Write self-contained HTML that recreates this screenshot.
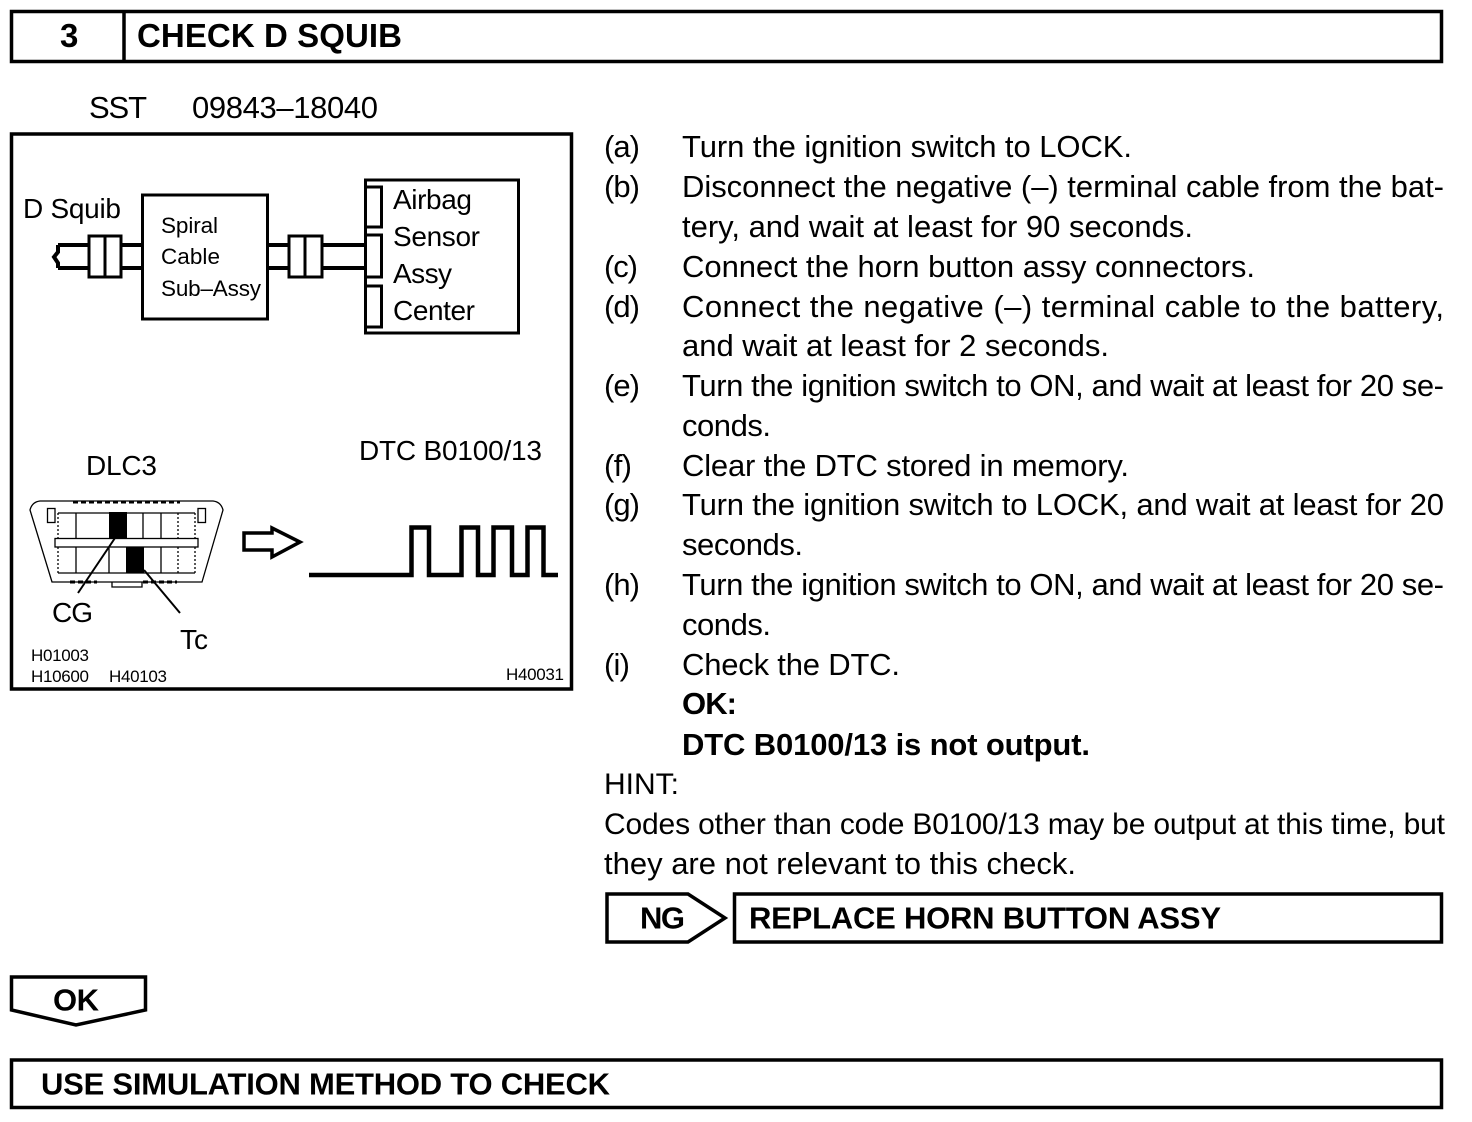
<!DOCTYPE html>
<html><head><meta charset="utf-8"><style>
html,body{margin:0;padding:0;background:#fff;width:1472px;height:1122px;overflow:hidden}
svg{display:block}
text{font-family:"Liberation Sans",sans-serif;fill:#000}
.b{font-size:31px}.h{font-weight:bold;font-size:31px}.d{font-size:28px}.s{font-size:22.5px}.t{font-size:17px}
.l{fill:none;stroke:#000}
</style></head><body>
<svg width="1472" height="1122" viewBox="0 0 1472 1122" xmlns="http://www.w3.org/2000/svg">
<g class="l" stroke-width="3.5">
<rect x="11.5" y="11.5" width="1430" height="50"/><path d="M124 11V62"/>
<rect x="11.5" y="134" width="560" height="555"/>
<rect x="734.5" y="894" width="707" height="48"/>
<rect x="11.5" y="1060" width="1430" height="47.5"/>
<path d="M607 894H688L725 918L688 942H607Z"/>
<path d="M11.5 977H145.5V1010L76 1025L11.5 1010Z"/>
<path d="M58 245V252L54 257L58 263V268M58 245H142M58 268H142M268 245H365M268 268H365" stroke-width="4"/>
<rect x="89" y="236" width="32" height="41" fill="#fff" stroke-width="3"/><path d="M105 236V277" stroke-width="3"/>
<rect x="289" y="236" width="33" height="41" fill="#fff" stroke-width="3"/><path d="M305 236V277" stroke-width="3"/>
<rect x="142.500" y="195" width="125" height="124" fill="#fff" stroke-width="3"/>
<rect x="365.500" y="180" width="153" height="153" fill="#fff" stroke-width="3"/>
<rect x="365.500" y="187" width="16" height="40" stroke-width="3"/>
<rect x="365.500" y="235" width="16" height="42" stroke-width="3"/>
<rect x="365.500" y="286" width="16" height="41" stroke-width="3"/>
<path d="M244 533H272V528L300 542L272 557V550H244Z" stroke-width="3.5"/>
<path d="M309 575H411.500V527.500H429V575H461.500V527.500H478V575H493.500V527.500H512V575H527.500V527.500H543.500V575H558" stroke-width="4.500"/>
</g>
<g class="l" stroke-width="1.300">
<path d="M62 501H213Q221 502 223 510L202 582H52L30 510Q32 502 40 501Z"/>
<path d="M73 502H180" stroke-width="3" stroke-dasharray="5 3"/>
<path d="M70 582H97M143 582H177" stroke-width="3" stroke-dasharray="5 3"/>
<path d="M58 513H195M58 573H195"/>
<path d="M58 513V538M195 513V538M58 547V573M195 547V573M178 513V538M178 547V573" stroke-dasharray="2 2"/>
<path d="M76 513V538M143 513V538M161 513V538M76 547V573M109 547V573M161 547V573"/>
<rect x="55" y="538.500" width="143" height="8.500"/>
<rect x="47.500" y="508.500" width="7.500" height="14"/>
<rect x="198" y="508.500" width="7.500" height="14"/>
<path d="M112 582V587H142V582"/>
</g>
<rect x="109" y="512" width="18" height="26"/>
<rect x="126" y="547" width="18" height="26"/>
<g class="l" stroke-width="2"><path d="M115 538L78 593M144 570L180 613"/></g>

<text class="h" style="font-size:33px" x="60" y="47" textLength="18">3</text>
<text class="h" style="font-size:33px" x="137" y="47" textLength="265">CHECK D SQUIB</text>
<text class="b" x="89" y="118" textLength="58">SST</text>
<text class="b" x="192" y="118" textLength="186">09843–18040</text>

<text class="d" x="23" y="218" textLength="98">D Squib</text>
<text class="s" x="161" y="233" textLength="57">Spiral</text>
<text class="s" x="161" y="264" textLength="59">Cable</text>
<text class="s" x="161" y="296" textLength="100">Sub–Assy</text>
<text class="d" x="393" y="209" textLength="79">Airbag</text>
<text class="d" x="393" y="246" textLength="87">Sensor</text>
<text class="d" x="393" y="283" textLength="59">Assy</text>
<text class="d" x="393" y="320" textLength="82">Center</text>
<text class="d" x="86" y="475" textLength="71">DLC3</text>
<text class="d" x="359" y="460" textLength="183">DTC B0100/13</text>
<text class="d" x="52" y="622" textLength="41">CG</text>
<text class="d" x="180" y="649" textLength="28">Tc</text>
<text class="t" x="31" y="661" textLength="58">H01003</text>
<text class="t" x="31" y="682" textLength="58">H10600</text>
<text class="t" x="109" y="682" textLength="58">H40103</text>
<text class="t" x="506" y="680" textLength="58">H40031</text>

<text class="b" x="604" y="157" textLength="36">(a)</text><text class="b" x="682" y="157" textLength="450">Turn the ignition switch to LOCK.</text>
<text class="b" x="604" y="197" textLength="36">(b)</text><text class="b" x="682" y="197" textLength="762">Disconnect the negative (–) terminal cable from the bat-</text>
<text class="b" x="682" y="237" textLength="511">tery, and wait at least for 90 seconds.</text>
<text class="b" x="604" y="277" textLength="34">(c)</text><text class="b" x="682" y="277" textLength="573">Connect the horn button assy connectors.</text>
<text class="b" x="604" y="317" textLength="36">(d)</text><text class="b" x="682" y="317" textLength="762">Connect the negative (–) terminal cable to the battery,</text>
<text class="b" x="682" y="356" textLength="427">and wait at least for 2 seconds.</text>
<text class="b" x="604" y="396" textLength="36">(e)</text><text class="b" x="682" y="396" textLength="762">Turn the ignition switch to ON, and wait at least for 20 se-</text>
<text class="b" x="682" y="436" textLength="89">conds.</text>
<text class="b" x="604" y="476" textLength="28">(f)</text><text class="b" x="682" y="476" textLength="447">Clear the DTC stored in memory.</text>
<text class="b" x="604" y="515" textLength="36">(g)</text><text class="b" x="682" y="515" textLength="762">Turn the ignition switch to LOCK, and wait at least for 20</text>
<text class="b" x="682" y="555" textLength="121">seconds.</text>
<text class="b" x="604" y="595" textLength="36">(h)</text><text class="b" x="682" y="595" textLength="762">Turn the ignition switch to ON, and wait at least for 20 se-</text>
<text class="b" x="682" y="635" textLength="89">conds.</text>
<text class="b" x="604" y="675" textLength="26">(i)</text><text class="b" x="682" y="675" textLength="218">Check the DTC.</text>
<text class="b" x="682" y="714" textLength="55" font-weight="bold">OK:</text>
<text class="b" x="682" y="755" textLength="408" font-weight="bold">DTC B0100/13 is not output.</text>
<text class="b" style="font-size:30px" x="604" y="794" textLength="75">HINT:</text>
<text class="b" style="font-size:30px" x="604" y="834" textLength="841">Codes other than code B0100/13 may be output at this time, but</text>
<text class="b" x="604" y="874" textLength="472">they are not relevant to this check.</text>

<text class="h" x="640" y="928.500" textLength="45">NG</text>
<text class="h" x="749" y="928.500" textLength="472">REPLACE HORN BUTTON ASSY</text>
<text class="h" x="53" y="1010.500" textLength="46">OK</text>
<text class="h" x="41" y="1094.500" textLength="569">USE SIMULATION METHOD TO CHECK</text>
</svg>
</body></html>
